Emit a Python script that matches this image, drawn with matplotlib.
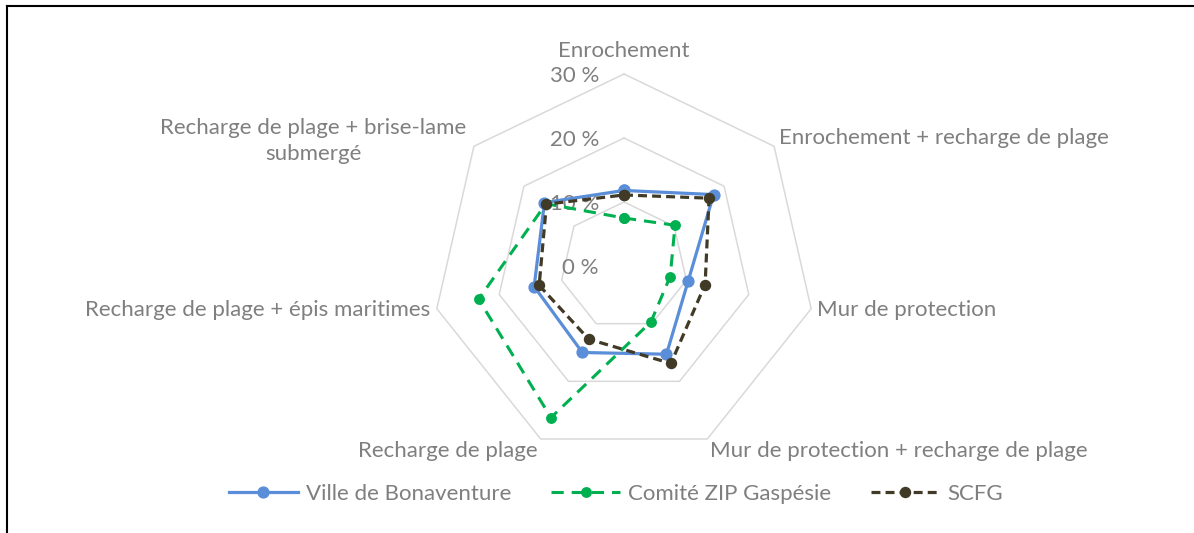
import matplotlib
matplotlib.use('Agg')
from matplotlib import pyplot as plt
from matplotlib.lines import Line2D
import numpy as np

plt.rcParams['font.family'] = ['Lato', 'DejaVu Sans']

# Data (percent)
categories = ['Enrochement',
              'Enrochement + recharge de plage',
              'Mur de protection',
              'Mur de protection + recharge de plage',
              'Recharge de plage',
              'Recharge de plage + épis maritimes',
              'Recharge de plage + brise-lame\nsubmergé']
ville = [11.8, 17.9, 10.3, 15.3, 15.0, 14.4, 15.9]
zip_gaspesie = [7.5, 10.2, 7.4, 9.7, 26.3, 23.3, 15.6]
scfg = [11.1, 17.0, 13.0, 16.9, 12.7, 13.6, 15.5]
ring_values = [10, 20, 30]
ring_labels = ['0 %', '10 %', '20 %', '30 %']

grey = '#7f7f7f'
fs = 16
W, H = 1194, 533
cx, cy = 624, 266      # chart centre in pixels
scale = 6.4            # pixels per percent

fig = plt.figure(figsize=(W / 100, H / 100), dpi=100)
ax = fig.add_axes([0, 0, 1, 1])
ax.set_xlim(-cx / scale, (W - cx) / scale)
ax.set_ylim(-(H - cy) / scale, cy / scale)
ax.axis('off')

n = len(categories)
angles = np.arange(n) * 2 * np.pi / n


def to_xy(values):
    v = np.asarray(values + values[:1], dtype=float)
    a = np.append(angles, angles[0])
    return v * np.sin(a), v * np.cos(a)


# heptagon rings
for r in ring_values:
    x, y = to_xy([r] * n)
    ax.plot(x, y, color='#d9d9d9', lw=1.1, zorder=1)

# radial tick labels
for i, lab in enumerate(ring_labels):
    ax.text(-25 / scale, i * 10 - 0.3, lab, ha='right', va='center',
            color=grey, fontsize=fs, zorder=2)

# series
x, y = to_xy(ville)
ax.plot(x, y, color='#5b8ed8', lw=2.3, marker='o', markersize=7.8,
        label='Ville de Bonaventure', zorder=3)
x, y = to_xy(zip_gaspesie)
ax.plot(x, y, color='#00b050', lw=2.2, ls=(0, (4.0, 2.6)), marker='o',
        markersize=6.8, label='Comité ZIP Gaspésie', zorder=4)
x, y = to_xy(scfg)
ax.plot(x, y, color='#403a26', lw=2.3, ls=(0, (2.8, 1.6)), marker='o',
        markersize=7.2, label='SCFG', zorder=5)

# category labels
for i, (lab, a) in enumerate(zip(categories, angles)):
    s, c = np.sin(a), np.cos(a)
    if abs(s) < 0.1:
        r = 33.6
        ha = 'center'
    else:
        r = 31.0
        ha = 'left' if s > 0 else 'right'
    dy = 0
    if c < -0.5:
        dy = -0.9
    elif 0 < c < 0.9 and abs(s) > 0.1:
        dy = 0.7
    if '\n' in lab:
        r = 31.5
        dy = -0.1
    ax.text(r * s, r * c + dy, lab, ha=ha, va='center', color=grey,
            fontsize=fs, multialignment='center', linespacing=1.4)

fig.legend(loc='center', bbox_to_anchor=(0.516, 1 - 494 / H), ncol=3,
           frameon=False, fontsize=fs, labelcolor=grey, handlelength=3.1,
           handletextpad=0.35, columnspacing=1.8)

# frame (top and left edges only)
top = 1 - 6 / H
fig.add_artist(Line2D([7 / W, 1], [top, top], color='black', lw=1.5))
fig.add_artist(Line2D([7 / W, 7 / W], [0, top], color='black', lw=1.5))

fig.savefig('out.png', dpi=100)
